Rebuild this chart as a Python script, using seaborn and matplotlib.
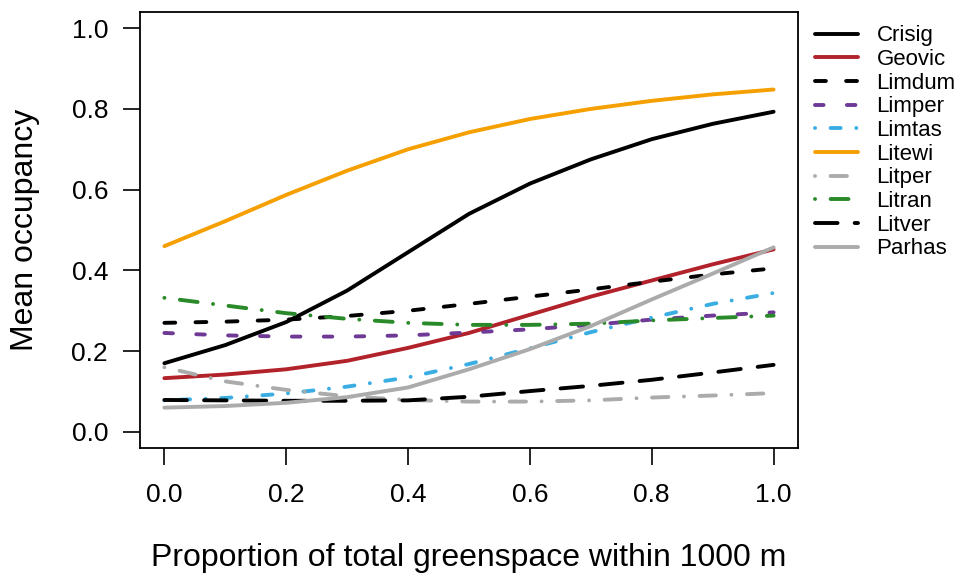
import numpy as np
import pandas as pd
import matplotlib
matplotlib.use('Agg')
import matplotlib.pyplot as plt
import seaborn as sns

# proportion of greenspace (x) and predicted mean occupancy per species
greenspace = [0.0, 0.1, 0.2, 0.3, 0.4, 0.5, 0.6, 0.7, 0.8, 0.9, 1.0]

crisig = [0.170, 0.215, 0.272, 0.350, 0.445, 0.540, 0.615, 0.675, 0.725, 0.763, 0.793]
geovic = [0.133, 0.142, 0.155, 0.176, 0.208, 0.245, 0.290, 0.335, 0.375, 0.415, 0.452]
limdum = [0.270, 0.273, 0.278, 0.287, 0.300, 0.317, 0.335, 0.353, 0.372, 0.390, 0.405]
limper = [0.245, 0.239, 0.236, 0.236, 0.239, 0.246, 0.254, 0.265, 0.278, 0.288, 0.296]
limtas = [0.078, 0.084, 0.095, 0.112, 0.135, 0.168, 0.207, 0.247, 0.283, 0.317, 0.344]
litewi = [0.460, 0.522, 0.587, 0.647, 0.700, 0.742, 0.775, 0.800, 0.820, 0.836, 0.848]
litper = [0.160, 0.125, 0.104, 0.088, 0.079, 0.075, 0.075, 0.078, 0.085, 0.090, 0.096]
litran = [0.332, 0.313, 0.294, 0.280, 0.270, 0.265, 0.265, 0.268, 0.276, 0.282, 0.288]
litver = [0.079, 0.078, 0.077, 0.077, 0.078, 0.087, 0.101, 0.114, 0.129, 0.147, 0.166]
parhas = [0.060, 0.064, 0.072, 0.086, 0.110, 0.155, 0.205, 0.262, 0.328, 0.392, 0.457]

species = ['Crisig', 'Geovic', 'Limdum', 'Limper', 'Limtas',
           'Litewi', 'Litper', 'Litran', 'Litver', 'Parhas']
series = [crisig, geovic, limdum, limper, limtas,
          litewi, litper, litran, litver, parhas]

colors = ['black', '#B2222A', 'black', '#6E3A96', '#3AAEE3',
          '#F5A000', '#ABABAB', '#2A8A2A', 'black', '#ABABAB']
# dash patterns in linewidth units (None = solid)
dashes = [None, None, (2.8, 5.2), (2.2, 6.0), (0.01, 4.0, 2.6, 4.0),
          None, (0.01, 4.0, 4.2, 4.0), (0.01, 4.0, 4.6, 4.0), (5.8, 4.4), None]

sns.set_style('white')
plt.rcParams['font.family'] = ['Liberation Sans', 'DejaVu Sans']
plt.rcParams['text.color'] = 'black'
plt.rcParams['axes.labelcolor'] = 'black'

fig = plt.figure(figsize=(9.73, 5.78), dpi=100)
ax = fig.add_axes([0.1439, 0.2249, 0.6762, 0.7543])

for name, vals, col, dsh in zip(species, series, colors, dashes):
    df = pd.DataFrame({'x': greenspace, 'y': vals})
    sns.lineplot(data=df, x='x', y='y', color=col, linewidth=2.8, ax=ax)
    line = ax.lines[-1]
    line.set_solid_capstyle('round')
    line.set_dash_capstyle('round')
    if dsh is not None:
        line.set_dashes(dsh)
    line.set_label(name)

if ax.get_legend() is not None:
    ax.get_legend().remove()

ax.set_xlim(-0.04, 1.04)
ax.set_ylim(-0.04, 1.04)
ax.set_xticks([0, 0.2, 0.4, 0.6, 0.8, 1.0])
ax.set_yticks([0, 0.2, 0.4, 0.6, 0.8, 1.0])
ax.set_xticklabels(['0.0', '0.2', '0.4', '0.6', '0.8', '1.0'])
ax.set_yticklabels(['0.0', '0.2', '0.4', '0.6', '0.8', '1.0'])
ax.tick_params(axis='both', direction='out', length=12, width=1.2,
               labelsize=19, color='black', labelcolor='black')
ax.tick_params(axis='x', pad=13, bottom=True)
ax.tick_params(axis='y', pad=11, left=True)
for s in ax.spines.values():
    s.set_color('black')
    s.set_linewidth(1.3)

ax.set_xlabel('Proportion of total greenspace within 1000 m', fontsize=23, labelpad=26)
ax.set_ylabel('Mean occupancy', fontsize=23)
ax.yaxis.set_label_coords(-0.152, 0.5)

fig.legend(handles=ax.lines, labels=species, loc='upper left',
           bbox_to_anchor=(0.838, 0.956), frameon=False, fontsize=16,
           handlelength=1.9, handletextpad=0.85, labelspacing=0.12,
           borderpad=0, borderaxespad=0)

fig.savefig('out.png', dpi=100)
